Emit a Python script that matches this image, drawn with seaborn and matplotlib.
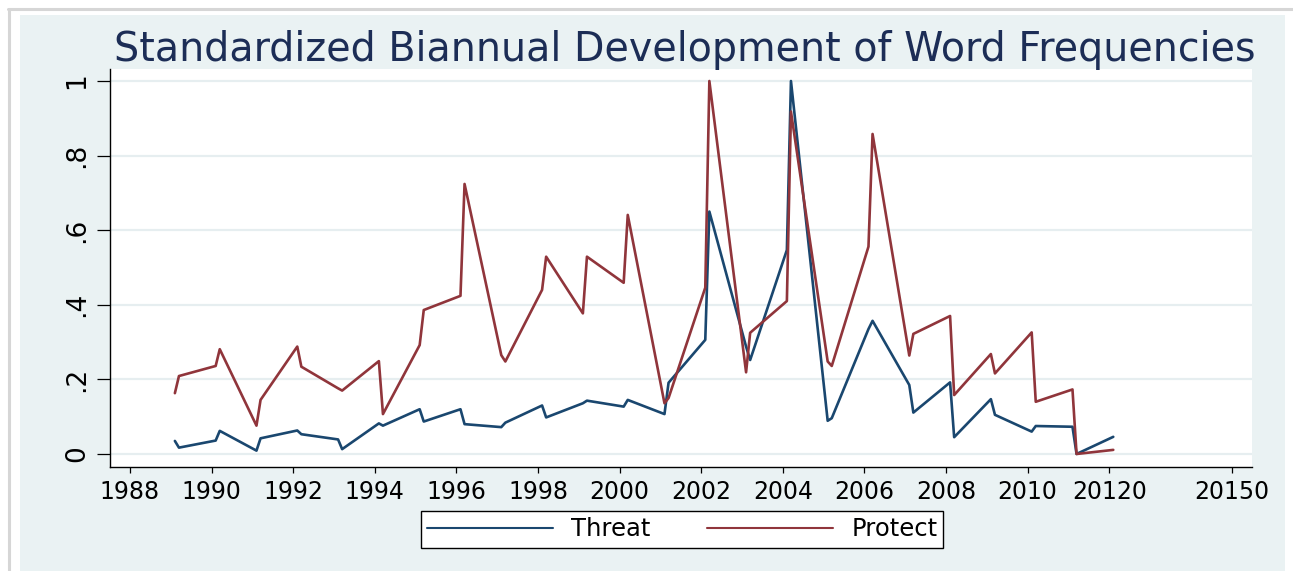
import matplotlib
matplotlib.use("Agg")
import matplotlib.pyplot as plt
import matplotlib.patches as mpatches
import matplotlib.lines as mlines
import seaborn as sns
import pandas as pd

# ---- data ----
periods = [1989.1, 1989.2, 1990.1, 1990.2, 1991.1, 1991.2, 1992.1, 1992.2,
           1993.1, 1993.2, 1994.1, 1994.2, 1995.1, 1995.2, 1996.1, 1996.2,
           1997.1, 1997.2, 1998.1, 1998.2, 1999.1, 1999.2, 2000.1, 2000.2,
           2001.1, 2001.2, 2002.1, 2002.2, 2003.1, 2003.2, 2004.1, 2004.2,
           2005.1, 2005.2, 2006.1, 2006.2, 2007.1, 2007.2, 2008.1, 2008.2,
           2009.1, 2009.2, 2010.1, 2010.2, 2011.1, 2011.2, 2012.1]
threat = [0.035, 0.017, 0.036, 0.062, 0.009, 0.042, 0.063, 0.053,
          0.039, 0.013, 0.082, 0.076, 0.120, 0.087, 0.120, 0.080,
          0.072, 0.084, 0.130, 0.098, 0.136, 0.143, 0.127, 0.145,
          0.107, 0.191, 0.306, 0.650, 0.288, 0.252, 0.547, 1.000,
          0.089, 0.096, 0.335, 0.357, 0.185, 0.111, 0.192, 0.045,
          0.147, 0.105, 0.060, 0.075, 0.073, 0.000, 0.046]
protect = [0.163, 0.209, 0.236, 0.281, 0.076, 0.145, 0.288, 0.234,
           0.176, 0.170, 0.249, 0.107, 0.292, 0.386, 0.424, 0.724,
           0.265, 0.248, 0.440, 0.529, 0.377, 0.529, 0.459, 0.641,
           0.136, 0.150, 0.446, 1.000, 0.219, 0.325, 0.410, 0.918,
           0.248, 0.236, 0.556, 0.858, 0.264, 0.322, 0.370, 0.158,
           0.268, 0.216, 0.326, 0.140, 0.173, 0.000, 0.011]
series_names = ["Threat", "Protect"]
xtick_values = [1988, 1990, 1992, 1994, 1996, 1998, 2000, 2002, 2004,
                2006, 2008, 2010, 2012, 2015]
xtick_labels = ["1988", "1990", "1992", "1994", "1996", "1998", "2000",
                "2002", "2004", "2006", "2008", "2010", "20120", "20150"]
ytick_values = [0, 0.2, 0.4, 0.6, 0.8, 1.0]
ytick_labels = ["0", ".2", ".4", ".6", ".8", "1"]
title = "Standardized Biannual Development of Word Frequencies"

df = pd.DataFrame({
    "period": periods * 2,
    "value": threat + protect,
    "series": [series_names[0]] * len(periods) + [series_names[1]] * len(periods),
})

# ---- styling ----
sns.set_theme(style="white")
plt.rcParams["font.family"] = ["DejaVu Sans"]
plt.rcParams["text.color"] = "black"

W, H = 1293, 571
fig = plt.figure(figsize=(W / 100, H / 100), dpi=100, facecolor="white")

BG = "#eaf2f3"
NAVY = "#1a476f"
MAROON = "#90353b"

# outer frame and Stata-like graph region
fig.patches.append(mpatches.Rectangle((20 / W, 0), 1265 / W, (H - 15) / H,
                                      transform=fig.transFigure, facecolor=BG,
                                      edgecolor="none", zorder=-10))
fig.lines.append(mlines.Line2D([8 / W, 1], [1 - 9 / H, 1 - 9 / H],
                               transform=fig.transFigure, color="#d6d6d6",
                               lw=2.2, zorder=-10))
fig.lines.append(mlines.Line2D([9 / W, 9 / W], [0, 1 - 9 / H],
                               transform=fig.transFigure, color="#d6d6d6",
                               lw=2.2, zorder=-10))

left, right, top, bottom = 110, 1252, 69, 467
ax = fig.add_axes([left / W, 1 - bottom / H, (right - left) / W, (bottom - top) / H])
ax.set_zorder(1)
ax.set_facecolor("white")

sns.lineplot(data=df, x="period", y="value", hue="series",
             palette={series_names[0]: NAVY, series_names[1]: MAROON},
             linewidth=1.9, ax=ax, legend=False, sort=True, estimator=None)

ax.set_xlim(1987.51, 2015.50)
ax.set_ylim(-0.0349, 1.0322)
ax.set_xticks(xtick_values)
ax.set_xticklabels(xtick_labels)
ax.set_yticks(ytick_values)
ax.set_yticklabels(ytick_labels, rotation=90, va="center")
ax.set_xlabel("")
ax.set_ylabel("")

for y in ytick_values:
    ax.axhline(y, color="#e6eef0", lw=1.6, zorder=0)

for s in ["top", "right"]:
    ax.spines[s].set_visible(False)
for s in ["left", "bottom"]:
    ax.spines[s].set_color("black")
    ax.spines[s].set_linewidth(1.0)

ax.tick_params(axis="x", direction="out", length=4.6, width=0.9, color="black",
               labelsize=17, pad=5, labelcolor="black", bottom=True)
ax.tick_params(axis="y", direction="out", length=9.4, width=0.9, color="black",
               labelsize=19, pad=5, labelcolor="black", left=True)

fig.text((112 + 1258) / 2 / W, 1 - 61 / H, title, ha="center", va="baseline",
         fontsize=28.5, color="#1c2d56")

handles = [mlines.Line2D([], [], color=NAVY, lw=1.5),
           mlines.Line2D([], [], color=MAROON, lw=1.5)]
leg = fig.legend(handles, series_names, loc="center",
                 bbox_to_anchor=(682 / W, 1 - 529.5 / H),
                 bbox_transform=fig.transFigure, ncol=2, fontsize=17.5,
                 handlelength=5.2, handletextpad=0.75, columnspacing=2.3,
                 borderpad=0.25, borderaxespad=0, frameon=True,
                 fancybox=False, framealpha=1)
leg.get_frame().set_edgecolor("black")
leg.get_frame().set_linewidth(1.0)
leg.get_frame().set_facecolor("white")
for t in leg.get_texts():
    t.set_color("black")

fig.savefig("out.png", dpi=100, facecolor="white")
